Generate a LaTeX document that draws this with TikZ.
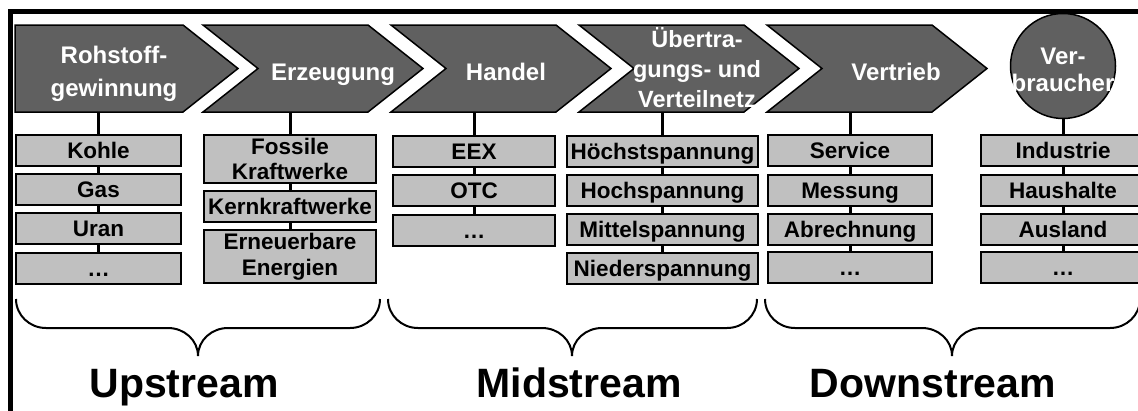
\documentclass[tikz,border=0pt]{standalone}
\usepackage{fontspec}
\setmainfont{Liberation Sans}
\definecolor{cdark}{RGB}{96,96,96}
\definecolor{clight}{RGB}{192,192,192}
\begin{document}
\begin{tikzpicture}[x=1pt,y=-1pt,
  chev/.style={draw=black,fill=cdark,line width=1.5pt},
  ctext/.style={text=white,font=\fontsize{24}{31}\selectfont\bfseries,align=center,inner sep=0pt},
  cone/.style={ctext,text height=19pt,text depth=2pt},
  cell/.style={draw=black,fill=clight,line width=2pt,inner sep=0pt,minimum height=31pt,font=\fontsize{22.5}{25}\selectfont\bfseries,align=center},
  cellone/.style={cell,text height=18.5pt,text depth=2.3pt},
  stem/.style={line width=3pt},
  brace/.style={line width=2pt},
  stream/.style={font=\fontsize{41}{44}\selectfont\bfseries,anchor=base,inner sep=0pt}]
\useasboundingbox (0,0) rectangle (1138,410);
\clip (0,0) rectangle (1138,410);
% frame
\draw[line width=4.5pt] (10.5,414) -- (10.5,11.5) -- (1142,11.5);
% chevrons
\draw[chev] (15,25) -- (183,25) -- (238,68.5) -- (183,112) -- (15,112) -- cycle;
\foreach \xl in {203,391,579,767}{
  \draw[chev] (\xl,25) -- (\xl+165,25) -- (\xl+220,68.5) -- (\xl+165,112) -- (\xl,112) -- (\xl+55,68.5) -- cycle;
}
\node[circle,draw=black,fill=cdark,line width=1.5pt,minimum size=105pt,inner sep=0pt] (v) at (1063,66) {};
% chevron texts
\node[ctext,font=\fontsize{24}{33}\selectfont\bfseries] (t1) at (114,74) {Rohstoff-\\gewinnung};
\node[cone] (t2) at (333,71.5) {Erzeugung};
\node[cone] (t3) at (506,71.5) {Handel};
\node[ctext,font=\fontsize{23.5}{30}\selectfont\bfseries] (t4) at (697,68) {Übertra-\\gungs- und\\Verteilnetz};
\node[cone] (t5) at (896,71.5) {Vertrieb};
\node[ctext,font=\fontsize{24}{27}\selectfont\bfseries] (t6) at (1063,70) {Ver-\\braucher};
% stem tops
\coordinate (s1) at (98.5,112);
\coordinate (s2) at (290,112);
\coordinate (s3) at (474,112);
\coordinate (s4) at (662.5,112);
\coordinate (s5) at (850,112);
% column 1
\node[cellone,minimum width=165pt] (a1) at (98.5,150.5) {Kohle};
\node[cellone,minimum width=165pt] (a2) at (98.5,189.5) {Gas};
\node[cellone,minimum width=165pt] (a3) at (98.5,228.5) {Uran};
\node[cellone,minimum width=165pt] (a4) at (98.5,268) {…};
% column 2
\node[cell,minimum width=172pt,minimum height=48pt] (b1) at (290,159) {Fossile\\Kraftwerke};
\node[cellone,minimum width=172pt] (b2) at (290,206.5) {Kernkraftwerke};
\node[cell,minimum width=172pt,minimum height=53pt,font=\fontsize{22.5}{26}\selectfont\bfseries] (b3) at (290,256.5) {Erneuerbare\\Energien};
% column 3
\node[cellone,minimum width=162pt] (c1) at (474,151) {EEX};
\node[cellone,minimum width=162pt] (c2) at (474,190.5) {OTC};
\node[cellone,minimum width=162pt] (c3) at (474,230) {…};
% column 4
\node[cellone,minimum width=191pt] (d1) at (662.5,151) {Höchstspannung};
\node[cellone,minimum width=191pt] (d2) at (662.5,190) {Hochspannung};
\node[cellone,minimum width=191pt] (d3) at (662.5,229) {Mittelspannung};
\node[cellone,minimum width=191pt] (d4) at (662.5,268) {Niederspannung};
% column 5
\node[cellone,minimum width=164pt] (e1) at (850,150.5) {Service};
\node[cellone,minimum width=164pt] (e2) at (850,190) {Messung};
\node[cellone,minimum width=164pt] (e3) at (850,229) {Abrechnung};
\node[cellone,minimum width=164pt] (e4) at (850,267.5) {…};
% column 6
\node[cellone,minimum width=164pt] (f1) at (1063,150.5) {Industrie};
\node[cellone,minimum width=164pt] (f2) at (1063,190) {Haushalte};
\node[cellone,minimum width=164pt] (f3) at (1063,229) {Ausland};
\node[cellone,minimum width=164pt] (f4) at (1063,267.5) {…};
% stems
\draw[stem] (s1) -- (a1.north) (a1.south) -- (a2.north) (a2.south) -- (a3.north) (a3.south) -- (a4.north);
\draw[stem] (s2) -- (b1.north) (b1.south) -- (b2.north) (b2.south) -- (b3.north);
\draw[stem] (s3) -- (c1.north) (c1.south) -- (c2.north) (c2.south) -- (c3.north);
\draw[stem] (s4) -- (d1.north) (d1.south) -- (d2.north) (d2.south) -- (d3.north) (d3.south) -- (d4.north);
\draw[stem] (s5) -- (e1.north) (e1.south) -- (e2.north) (e2.south) -- (e3.north) (e3.south) -- (e4.north);
\draw[stem] (v.south) -- (f1.north) (f1.south) -- (f2.north) (f2.south) -- (f3.north) (f3.south) -- (f4.north);
% braces
\foreach \xa/\xm/\xb in {16/198/380, 388/572/757, 765/952/1140}{
  \draw[brace] (\xa,299) to[out=-90,in=180] (\xa+30,328) -- (\xm-30,328) to[out=0,in=90] (\xm,356)
    to[out=90,in=180] (\xm+30,328) -- (\xb-30,328) to[out=0,in=-90] (\xb,299);
}
\node[stream] (up) at (184,397) {Upstream};
\node[stream] (mid) at (579,397) {Midstream};
\node[stream] (down) at (933,397) {Downstream};
\end{tikzpicture}
\end{document}
